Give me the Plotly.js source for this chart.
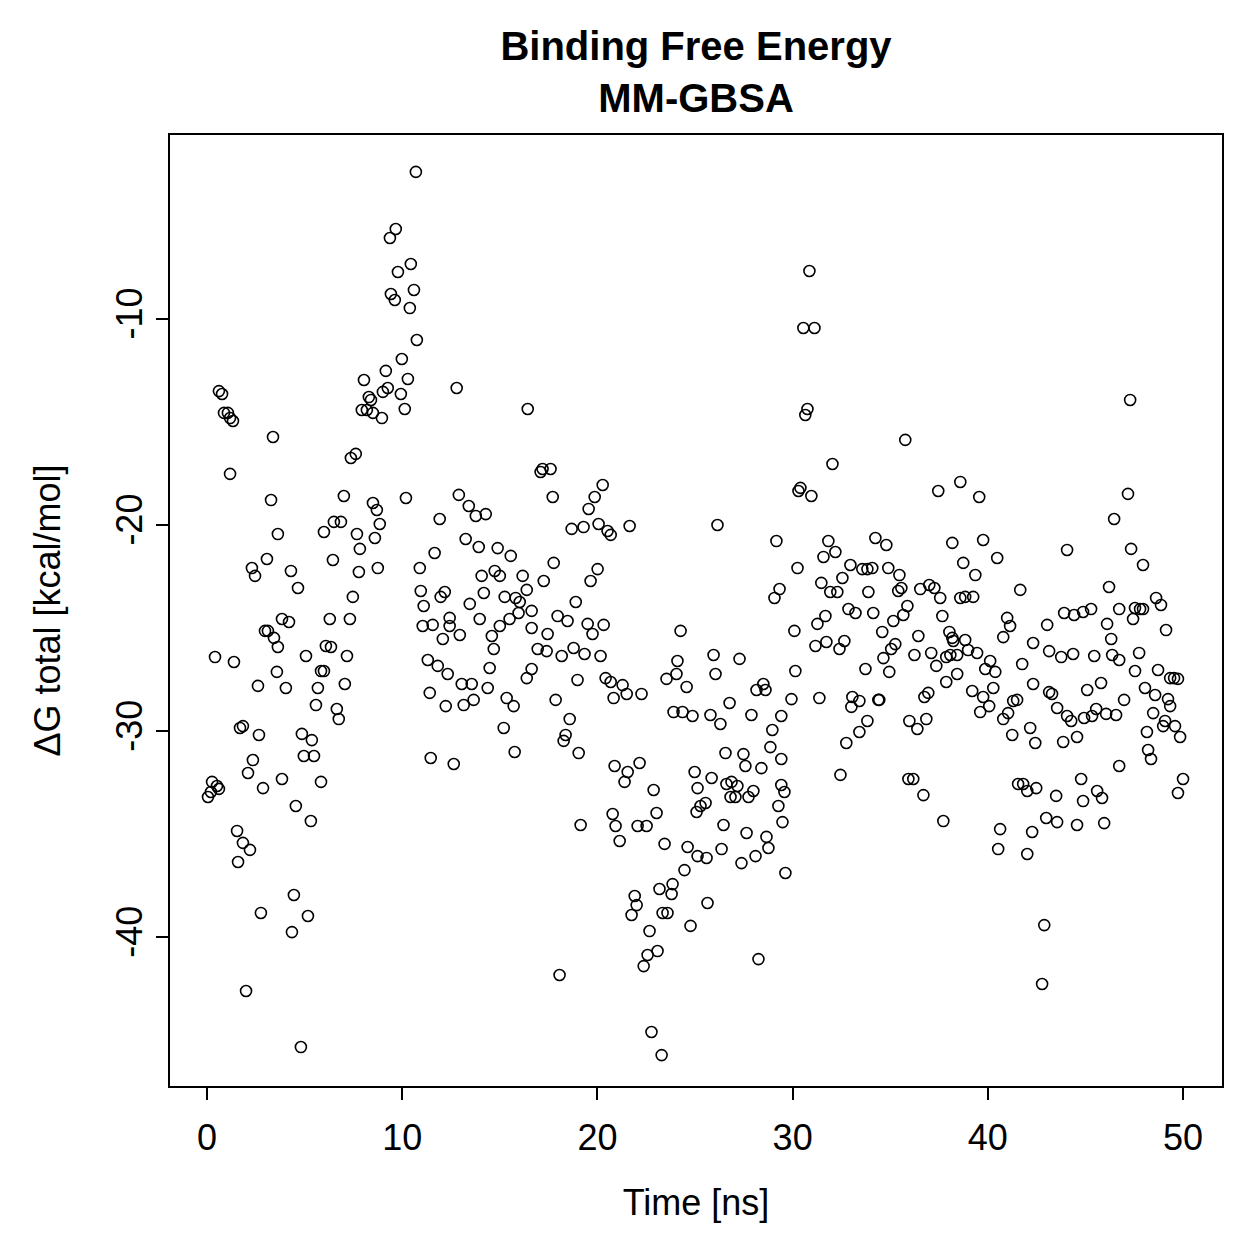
<!DOCTYPE html>
<html>
<head>
<meta charset="utf-8">
<script src="https://cdn.plot.ly/plotly-3.0.1.min.js"></script>
<style>html,body{margin:0;padding:0;background:#fff;}#chart{width:1259px;height:1259px;}</style>
</head>
<body>
<div id="chart"></div>
<script>
// Time [ns] and ΔG total [kcal/mol], grouped by time span
const seg1T = [0.61,0.77,0.87,1.07,1.18,1.33,3.38,1.18,3.28,3.63,3.07,2.30,2.46,3.84,2.97,3.12,3.43,3.63,0.41,1.38,2.61,3.58,1.69,1.84,2.66,2.35,2.10,2.87,3.84,0.26,0.51,0.61,0.05,1.54,1.84,2.20,1.59,2.76,2.00,0.20];
const seg1G = [-13.50,-13.64,-14.56,-14.56,-14.81,-14.95,-15.73,-17.52,-18.79,-20.44,-21.65,-22.09,-22.47,-24.56,-25.14,-25.14,-25.48,-25.92,-26.41,-26.65,-27.81,-27.13,-29.85,-29.76,-30.19,-31.41,-32.04,-32.77,-32.33,-32.47,-32.67,-32.81,-33.20,-34.85,-35.43,-35.77,-36.36,-38.83,-42.62,-32.96];

const seg2T = [7.37,7.62,7.01,5.99,6.50,6.86,7.68,7.83,6.45,7.78,4.30,4.66,7.47,7.32,6.29,4.20,5.07,6.09,6.35,7.17,5.84,5.99,5.68,7.06,4.04,5.58,6.65,6.75,4.86,5.37,4.96,5.48,5.84,4.55,5.32,4.45,5.17,4.35,4.81];
const seg2G = [-16.75,-16.55,-18.59,-20.34,-19.85,-19.85,-20.44,-21.16,-21.70,-22.28,-22.23,-23.06,-23.49,-24.56,-24.56,-24.71,-26.36,-25.87,-25.92,-26.36,-27.09,-27.09,-27.91,-27.72,-27.91,-28.74,-28.93,-29.42,-30.14,-30.44,-31.21,-31.21,-32.47,-33.64,-34.37,-37.96,-38.98,-39.76,-45.34];

const seg3T = [10.70,9.67,9.37,10.44,9.78,10.60,9.42,9.62,10.39,10.75,9.98,9.16,10.29,8.04,9.26,9.01,9.93,10.13,8.29,8.40,7.93,8.19,8.50,8.96,10.19,11.92,8.50,8.70,8.85,8.60,8.75,11.66,10.90,10.95,11.10,11.97,12.18,12.43,11.05,11.56,12.08,12.43,11.31,11.82,12.33,11.41,12.23,11.46,12.64];
const seg3G = [-2.86,-5.63,-6.07,-7.33,-7.72,-8.59,-8.79,-9.08,-9.47,-11.02,-11.94,-12.52,-12.91,-12.96,-13.35,-13.54,-13.64,-14.37,-13.79,-13.93,-14.42,-14.42,-14.56,-14.81,-18.69,-19.71,-18.93,-19.27,-19.95,-20.63,-22.09,-21.36,-22.09,-23.20,-23.93,-23.49,-23.25,-24.51,-24.90,-24.85,-25.53,-24.90,-26.55,-26.84,-27.23,-28.15,-28.79,-31.31,-31.60];

const seg4T = [12.79,16.43,12.90,13.41,13.77,14.28,13.25,13.92,14.89,15.56,14.07,14.74,15.00,16.17,16.38,14.18,15.25,15.81,16.02,15.96,15.50,15.00,16.63,13.46,13.97,12.95,14.59,14.69,16.63,14.48,16.38,16.63,13.05,13.56,14.38,13.15,13.66,15.35,15.71,15.20,15.76];
const seg4G = [-13.35,-14.37,-18.54,-19.08,-19.56,-19.47,-20.68,-21.07,-21.12,-21.50,-22.47,-22.23,-22.47,-22.47,-23.15,-23.30,-23.49,-23.54,-23.74,-24.27,-24.56,-24.90,-24.17,-23.83,-24.56,-25.34,-25.39,-26.02,-25.00,-26.94,-27.43,-26.99,-27.72,-27.72,-27.91,-28.74,-28.49,-28.40,-28.79,-29.85,-31.02];

const seg5T = [17.09,17.19,17.60,17.71,20.27,19.86,19.55,20.06,20.52,20.68,18.68,19.29,17.76,17.25,20.01,19.65,18.89,17.96,18.47,17.45,16.94,17.40,19.50,19.75,20.32,18.78,18.17,19.34,20.16,18.98,20.42,20.68,20.83,17.86,18.58,18.37,18.27,19.04,20.88,19.14,20.78,20.93,18.06];
const seg5G = [-17.43,-17.28,-17.28,-18.64,-18.06,-18.64,-19.22,-19.95,-20.29,-20.48,-20.19,-20.10,-21.84,-22.72,-22.14,-22.72,-23.74,-24.42,-24.66,-25.29,-26.02,-26.12,-24.80,-25.29,-24.85,-25.97,-26.36,-26.26,-26.36,-27.52,-27.43,-27.62,-28.40,-28.49,-29.42,-30.19,-30.48,-31.07,-31.70,-34.56,-34.03,-34.61,-41.84];

const seg6T = [21.65,24.26,24.10,24.05,23.54,24.57,21.29,21.50,22.26,23.90,24.36,24.87,21.55,21.39,22.16,22.88,24.98,25.13,25.08,25.28,22.06,22.52,23.03,21.14,23.44,24.62,25.13,24.46,23.85,23.18,23.80,21.91,22.01,21.75,23.34,23.59,24.77,22.67,22.57,23.08,22.37,22.77,23.29];
const seg6G = [-20.05,-25.14,-26.60,-27.23,-27.47,-27.86,-27.77,-28.20,-28.20,-29.08,-29.08,-29.27,-31.99,-32.47,-31.55,-32.86,-31.99,-32.77,-33.93,-33.64,-34.61,-34.61,-33.98,-35.34,-35.48,-35.63,-36.07,-36.75,-37.43,-37.67,-37.91,-38.01,-38.45,-38.93,-38.83,-38.83,-39.46,-39.71,-40.87,-40.68,-41.41,-44.61,-45.73];

const seg7T = [26.15,29.17,29.33,29.07,25.95,27.28,26.05,28.50,28.61,28.15,26.77,25.79,26.30,27.89,29.42,28.96,28.86,26.56,27.48,27.58,28.40,25.85,26.61,26.87,27.17,27.07,26.82,27.74,27.99,25.54,29.42,29.42,29.27,29.58,26.46,27.64,28.66,28.76,28.10,27.38,26.36,25.59,29.63,25.64,28.25];
const seg7G = [-20.00,-20.78,-23.11,-23.54,-26.31,-26.50,-27.23,-27.72,-28.01,-28.01,-28.64,-29.22,-29.66,-29.22,-29.27,-29.95,-30.78,-31.07,-31.12,-31.70,-31.80,-32.28,-32.57,-32.47,-32.67,-33.20,-33.20,-33.20,-32.91,-33.49,-31.36,-32.62,-33.64,-32.96,-34.56,-34.95,-35.14,-35.68,-36.07,-36.41,-35.73,-36.16,-36.89,-38.35,-41.07];

const seg8T = [30.86,30.55,31.12,30.76,30.65,32.04,30.40,30.30,30.96,31.83,31.58,32.19,30.25,32.96,33.57,33.83,31.47,32.55,31.93,32.29,32.86,33.22,31.68,31.27,30.09,31.17,31.73,32.40,32.65,30.14,33.73,29.94,31.37,33.06,33.42,33.01,33.83,33.42,32.75,29.48,32.45];
const seg8G = [-7.67,-10.44,-10.44,-14.37,-14.66,-17.04,-18.20,-18.35,-18.59,-20.78,-21.55,-21.31,-22.09,-21.94,-22.14,-22.14,-22.81,-22.57,-23.25,-23.25,-24.08,-24.27,-24.42,-24.80,-25.14,-25.87,-25.68,-26.02,-25.63,-27.09,-26.99,-28.45,-28.40,-28.35,-28.54,-28.83,-29.51,-30.05,-30.58,-34.42,-32.13];

const seg9T = [35.77,37.46,34.24,34.80,38.18,34.08,34.90,35.47,35.41,35.57,35.88,35.67,35.16,36.54,37.00,37.26,37.56,37.67,38.03,38.18,33.88,34.13,34.59,35.26,35.05,34.65,34.95,36.44,36.24,37.10,37.36,37.87,37.87,34.39,34.44,36.75,36.95,35.98,36.39,36.85,35.93,36.18,36.70,37.72];
const seg9G = [-15.87,-18.35,-20.63,-20.97,-20.87,-22.09,-22.09,-22.43,-23.20,-23.06,-23.93,-24.37,-24.66,-23.11,-22.91,-23.06,-23.54,-24.42,-25.19,-25.48,-23.25,-24.27,-25.19,-25.78,-26.02,-26.46,-27.13,-25.39,-26.31,-26.21,-26.84,-26.41,-27.62,-28.49,-28.49,-28.35,-28.15,-29.51,-29.90,-29.42,-32.33,-32.33,-33.11,-34.37];

const seg10T = [38.59,39.56,39.76,40.48,38.74,39.36,38.59,38.84,39.25,41.66,40.99,41.14,40.79,38.23,38.84,38.08,38.43,38.99,39.45,38.43,40.12,39.87,40.38,40.28,39.76,40.07,39.61,39.20,41.76,42.32,42.32,41.30,41.50,41.04,40.79,41.25,42.17,42.43,41.55,41.81,42.02,42.48,40.63,40.53,42.02,42.27];
const seg10G = [-17.91,-18.64,-20.73,-21.60,-21.84,-22.43,-23.54,-23.49,-23.49,-23.15,-24.51,-24.90,-25.44,-25.63,-25.58,-26.31,-26.31,-26.07,-26.21,-27.23,-26.60,-26.99,-27.13,-27.91,-28.35,-28.79,-29.08,-28.06,-26.75,-25.73,-27.72,-28.54,-28.49,-29.13,-29.42,-30.19,-29.85,-30.58,-32.57,-32.57,-32.91,-32.77,-34.76,-35.73,-35.97,-34.90];

const seg11T = [46.47,44.06,46.21,43.91,44.42,44.88,45.29,46.73,43.04,46.11,46.32,43.14,43.76,44.37,45.45,46.37,46.73,43.14,43.29,45.80,45.09,43.55,44.06,44.27,44.93,45.34,45.55,46.06,46.57,46.98,43.86,44.57,46.73,43.50,44.78,44.88,45.60,45.85,42.99,43.55,44.57,45.96,42.89,42.78];
const seg11G = [-19.71,-21.21,-23.01,-24.27,-24.37,-24.22,-24.08,-24.08,-24.85,-24.80,-25.53,-26.12,-26.41,-26.26,-26.36,-26.31,-26.55,-28.11,-28.20,-27.67,-28.01,-28.88,-29.27,-29.51,-29.37,-29.27,-28.93,-29.17,-29.22,-28.49,-30.53,-30.29,-31.70,-33.15,-32.33,-33.40,-32.91,-33.25,-34.22,-34.42,-34.56,-34.47,-39.42,-42.28];

const seg12T = [47.29,47.18,47.34,47.95,47.54,47.80,47.95,47.44,48.62,48.87,49.13,47.75,47.54,48.72,49.34,49.54,49.74,48.05,48.57,49.23,49.34,48.47,49.08,48.98,49.59,49.85,48.15,48.21,48.36,50.00,49.74];
const seg12G = [-13.93,-18.49,-21.16,-21.94,-24.03,-24.08,-24.08,-24.56,-23.54,-23.88,-25.10,-26.21,-27.09,-27.04,-27.43,-27.43,-27.47,-27.91,-28.25,-28.45,-28.79,-29.13,-29.51,-29.76,-29.76,-30.29,-30.05,-30.92,-31.36,-32.33,-33.01];

const xTicks = [0, 10, 20, 30, 40, 50];
const xTickText = ["0", "10", "20", "30", "40", "50"];
const yTicks = [-40, -30, -20, -10];
const yTickText = ["-40", "-30", "-20", "-10"];

const timeNs = [].concat(seg1T, seg2T, seg3T, seg4T, seg5T, seg6T, seg7T, seg8T, seg9T, seg10T, seg11T, seg12T);
const deltaG = [].concat(seg1G, seg2G, seg3G, seg4G, seg5G, seg6G, seg7G, seg8G, seg9G, seg10G, seg11G, seg12G);

const FONT = "Liberation Sans, Arial, Helvetica, sans-serif";

const trace = {
  x: timeNs, y: deltaG, type: "scatter", mode: "markers",
  marker: {symbol: "circle-open", size: 11, color: "#000", line: {width: 1.6, color: "#000"}},
  hoverinfo: "x+y", showlegend: false
};

const layout = {
  width: 1259, height: 1259,
  paper_bgcolor: "#fff", plot_bgcolor: "#fff",
  margin: {l: 170, r: 37, t: 135, b: 173, pad: 0},
  font: {family: FONT, color: "#000"},
  title: {
    text: "<b>Binding Free Energy</b><br><b>MM-GBSA</b>",
    font: {family: FONT, size: 40, color: "#000"},
    x: 0.5, xref: "paper", xanchor: "center",
    y: 0.952, yref: "container", yanchor: "top"
  },
  xaxis: {
    range: [-1.896, 51.996], autorange: false,
    tickmode: "array", tickvals: xTicks, ticktext: xTickText,
    ticks: "outside", ticklen: 12, tickwidth: 2, tickcolor: "#000",
    ticklabelstandoff: 7,
    showline: true, mirror: true, linecolor: "#000", linewidth: 2,
    showgrid: false, zeroline: false,
    tickfont: {family: FONT, size: 36, color: "#000"},
    title: {text: "Time [ns]", font: {family: FONT, size: 36, color: "#000"}, standoff: 33},
    automargin: false
  },
  yaxis: {
    range: [-47.23, -1.07], autorange: false,
    tickmode: "array", tickvals: yTicks, ticktext: yTickText,
    ticks: "outside", ticklen: 12, tickwidth: 2, tickcolor: "#000",
    tickangle: -90,
    showline: true, mirror: true, linecolor: "#000", linewidth: 2,
    showgrid: false, zeroline: false,
    tickfont: {family: FONT, size: 36, color: "#000"},
    title: {text: "ΔG total [kcal/mol]", font: {family: FONT, size: 36, color: "#000"}, standoff: 37},
    automargin: false
  }
};

Plotly.newPlot("chart", [trace], layout, {displayModeBar: false, staticPlot: true});
</script>
</body>
</html>
